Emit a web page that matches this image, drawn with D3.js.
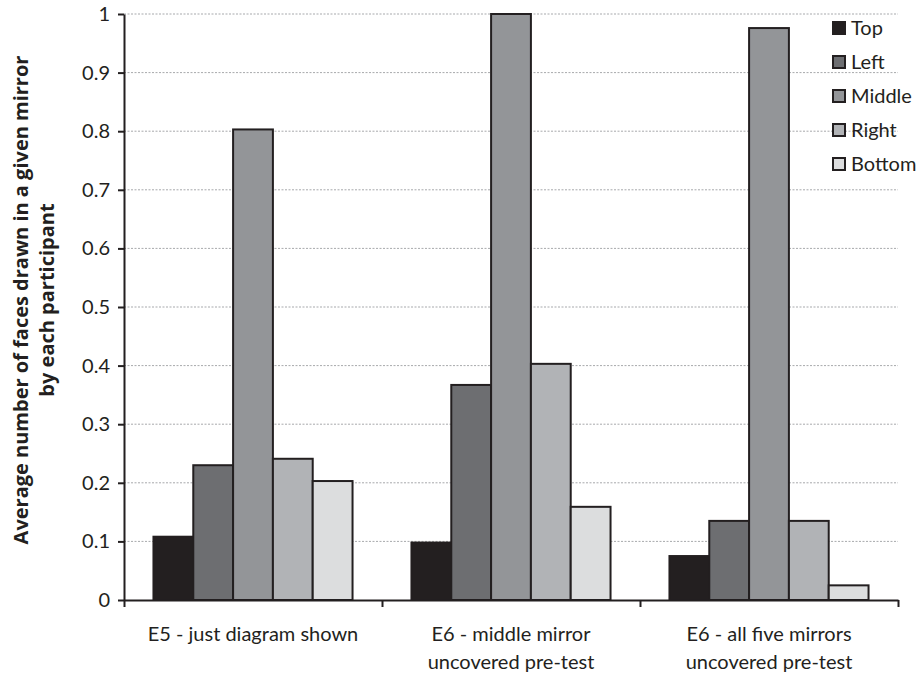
<!DOCTYPE html>
<html><head><meta charset="utf-8">
<script src="https://cdn.jsdelivr.net/npm/d3@7"></script>
<style>body{margin:0;background:#fff}svg{display:block}text{font-family:Lato,"Open Sans",sans-serif;fill:#231f20}</style>
</head><body>
<svg id="c" width="920" height="674"></svg>
<script>
const categories = [["E5 - just diagram shown"], ["E6 - middle mirror", "uncovered pre-test"], ["E6 - all five mirrors", "uncovered pre-test"]];
const series = ["Top", "Left", "Middle", "Right", "Bottom"];
const values = [
  [0.108, 0.230, 0.803, 0.241, 0.203],
  [0.098, 0.367, 1.000, 0.403, 0.159],
  [0.075, 0.135, 0.976, 0.135, 0.025]
];
const yTicks = [0, 0.1, 0.2, 0.3, 0.4, 0.5, 0.6, 0.7, 0.8, 0.9, 1];
const colors = ["#231f20", "#6d6e71", "#939598", "#b1b3b6", "#dcddde"];

const svg = d3.select("#c");
const L = 124, R = 898, T = 14, B = 600;
const x0 = d3.scaleBand().domain(d3.range(categories.length)).range([L, R]).paddingInner(0).paddingOuter(0);
const x1 = d3.scaleBand().domain(series).range([0, x0.bandwidth()]).paddingInner(0).paddingOuter(0.74);
const y = d3.scaleLinear().domain([0, 1]).range([B, T]);

// gridlines
svg.append("g").selectAll("line").data(yTicks.filter(d => d > 0)).join("line")
  .attr("x1", L).attr("x2", R).attr("y1", d => y(d)).attr("y2", d => y(d))
  .attr("stroke", "#a7a9ac").attr("stroke-width", 1).attr("stroke-dasharray", "2,1.5");

// bars
const g = svg.append("g").selectAll("g").data(values).join("g")
  .attr("transform", (d, i) => `translate(${x0(i)},0)`);
g.selectAll("rect").data(d => d.map((v, j) => ({v, j}))).join("rect")
  .attr("x", d => x1(series[d.j])).attr("width", x1.bandwidth())
  .attr("y", d => y(d.v)).attr("height", d => B - y(d.v))
  .attr("fill", d => colors[d.j]).attr("stroke", "#231f20").attr("stroke-width", 2);

// y axis
const ya = svg.append("g").attr("transform", `translate(${L},0)`)
  .call(d3.axisLeft(y).tickValues(yTicks).tickFormat(d => d === 0 ? "0" : d3.format("")(+d.toFixed(1))).tickSize(6).tickSizeOuter(0).tickPadding(8));
ya.select(".domain").attr("stroke", "#231f20").attr("stroke-width", 2);
ya.selectAll(".tick line").attr("stroke", "#231f20").attr("stroke-width", 2);
ya.selectAll("text").attr("font-size", 20).attr("fill", "#231f20").attr("font-family", "Lato, sans-serif");

// x axis
const xb = d3.scaleLinear().domain([0, 3]).range([L, R]);
const xa = svg.append("g").attr("transform", `translate(0,${B})`)
  .call(d3.axisBottom(xb).tickValues([0, 1, 2, 3]).tickFormat("").tickSize(7).tickSizeOuter(0));
xa.select(".domain").attr("stroke", "#231f20").attr("stroke-width", 2);
xa.selectAll(".tick line").attr("stroke", "#231f20").attr("stroke-width", 2);

// category labels
const cl = svg.append("g").selectAll("text").data(categories).join("text")
  .attr("x", (d, i) => x0(i) + x0.bandwidth() / 2).attr("y", 641)
  .attr("text-anchor", "middle").attr("font-size", 20);
cl.selectAll("tspan").data(d => d).join("tspan")
  .attr("x", function() { return this.parentNode.getAttribute("x"); })
  .attr("dy", (d, i) => i === 0 ? 0 : 28).text(d => d);

// y title
const yt = svg.append("text").attr("transform", "translate(0,300) rotate(-90)")
  .attr("text-anchor", "middle").attr("font-size", 20).attr("font-weight", "bold")
  .style("font-family", "'Open Sans', Lato, sans-serif");
yt.append("tspan").attr("x", 0).attr("y", 28).text("Average number of faces drawn in a given mirror");
yt.append("tspan").attr("x", 0).attr("y", 54).text("by each participant");

// legend
const lg = svg.append("g").selectAll("g").data(series).join("g")
  .attr("transform", (d, i) => `translate(833,${28 + i * 34})`);
lg.append("rect").attr("x", 0).attr("y", -6).attr("width", 12).attr("height", 12)
  .attr("fill", (d, i) => colors[i]).attr("stroke", "#231f20").attr("stroke-width", 2);
lg.append("text").attr("x", 18).attr("y", 0).attr("dy", "0.35em").attr("font-size", 20).text(d => d);
</script>
</body></html>
